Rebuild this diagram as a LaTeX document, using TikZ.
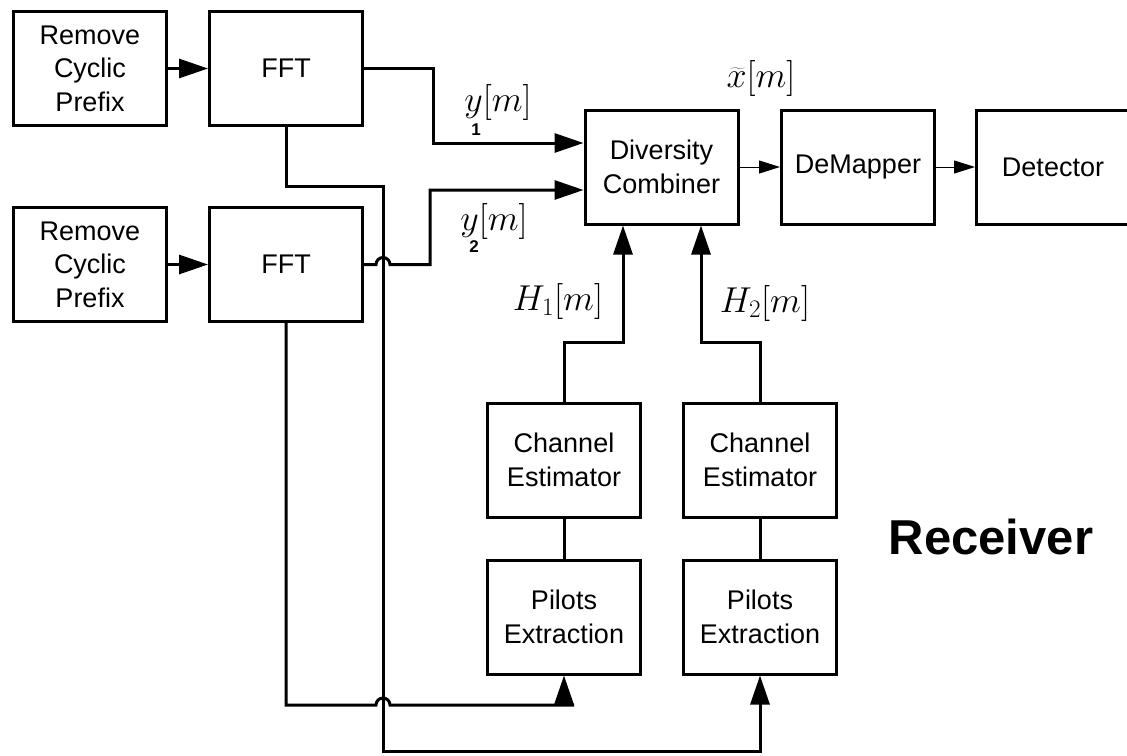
\RequirePackage{fix-cm}
\documentclass[tikz,border=0pt]{standalone}
\usepackage{fontspec}
\newfontfamily\arial{Liberation Sans}
\usetikzlibrary{arrows.meta,calc}
\begin{document}
\begin{tikzpicture}[x=1pt,y=-1pt,
  blk/.style={draw, line width=3pt, minimum width=153pt, minimum height=114pt, inner sep=0pt, align=center, font=\arial\fontsize{27}{33.5}\selectfont},
  wire/.style={line width=3pt, line join=miter},
  arr/.style={wire, -{Triangle[length=29pt,width=19pt]}},
  tarr/.style={line width=1pt, -{Triangle[length=21pt,width=13pt]}},
  mlab/.style={inner sep=0pt, font=\fontsize{36}{40}\selectfont},
  sublab/.style={inner sep=0pt, font=\arial\bfseries\fontsize{17}{18}\selectfont}]
\useasboundingbox (0,0) rectangle (1127,755);
% blocks
\node[blk] (rcp1) at (90,68.5) {Remove\\Cyclic\\Prefix};
\node[blk] (fft1) at (286,68.5) {FFT};
\node[blk] (rcp2) at (90,264.5) {Remove\\Cyclic\\Prefix};
\node[blk] (fft2) at (286,264.5) {FFT};
\node[blk] (dc) at (661.5,167) {Diversity\\Combiner};
\node[blk] (dm) at (858,167) {DeMapper};
\node[blk] (det) at (1053,167) {Detector};
\node[blk] (ce1) at (564,460) {Channel\\Estimator};
\node[blk] (pe1) at (564,617) {Pilots\\Extraction};
\node[blk] (ce2) at (760,460) {Channel\\Estimator};
\node[blk] (pe2) at (760,617) {Pilots\\Extraction};
% helper coordinates
\coordinate (a1) at (433,143);
\coordinate (a2) at (430,190);
\coordinate (hopA) at (376,264.5);
\coordinate (hopAe) at (390,264.5);
\coordinate (b1) at (383,186);
\coordinate (b2) at (383,751);
\coordinate (c1) at (286,705);
\coordinate (hopB) at (376,705);
\coordinate (hopBe) at (390,705);
\coordinate (c2) at (574,705);
\coordinate (h1) at (623,342);
\coordinate (h2) at (701,342);
% connectors
\draw[arr] (rcp1) -- (fft1);
\draw[arr] (rcp2) -- (fft2);
\draw[arr] (fft1.east) -| (a1) -- (a1 -| dc.west);
\draw[arr] (fft2.east) -- (hopA) arc[start angle=180,end angle=360,radius=7] -- (hopAe) -- (hopAe -| a2) -- (a2) -- (a2 -| dc.west);
\draw[arr] (fft1.south) |- (b1) -- (b2) -| (pe2.south);
\draw[wire] (fft2.south) -- (c1) -- (hopB) arc[start angle=180,end angle=360,radius=7] -- (hopBe) -- (c2);
\draw[arr] (pe1.south |- c1) -- (pe1.south);
\draw[arr] (ce1.north) |- (h1) -- (h1 |- dc.south);
\draw[arr] (ce2.north) |- (h2) -- (h2 |- dc.south);
\draw[wire] (ce1) -- (pe1);
\draw[wire] (ce2) -- (pe2);
\draw[tarr] (dc) -- (dm);
\draw[tarr] (dm) -- (det);
% labels
\node[mlab] (ly1) at (498,102.5) {$y[m]$};
\node[sublab] (ly1s) at (476,129.5) {1};
\node[mlab] (ly2) at (494,221) {$y[m]$};
\node[sublab] (ly2s) at (474,246.5) {2};
\node[mlab] (lh1) at (558,301) {$H_1[m]$};
\node[mlab] (lh2) at (765,303.5) {$H_2[m]$};
\node[mlab] (lx) at (761,78) {$\widetilde{x}[m]$};
\node[inner sep=0pt, font=\arial\bfseries\fontsize{49}{55}\selectfont] (rx) at (991,536.5) {Receiver};
\end{tikzpicture}
\end{document}
